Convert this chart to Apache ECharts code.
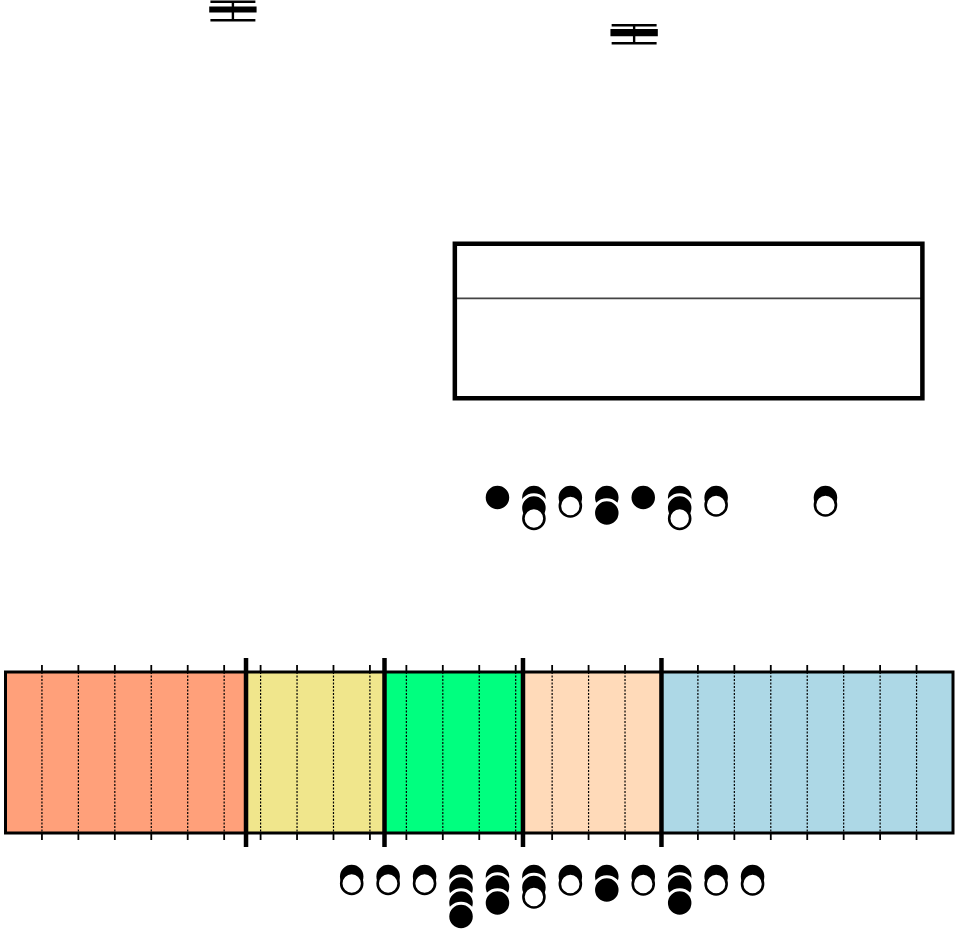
<!DOCTYPE html>
<html>
<head>
<meta charset="utf-8">
<script src="https://cdn.jsdelivr.net/npm/echarts@6/dist/echarts.min.js"></script>
<style>
html, body { margin: 0; padding: 0; background: #ffffff; }
#chart { width: 960px; height: 933px; }
</style>
</head>
<body>
<div id="chart"></div>
<script>
// ---------------- data ----------------
const periodStarts = [0, 6.6, 10.4, 14.2, 18.0];
const periodEnds   = [6.6, 10.4, 14.2, 18.0, 26];
const periodColors = ['#FFA07A', '#F0E68C', '#00FF7F', '#FFDAB9', '#ADD8E6'];
const boundaryValues = [6.6, 10.4, 14.2, 18.0];
const tickValues = [1, 2, 3, 4, 5, 6, 7, 8, 9, 10, 11, 12, 13, 14, 15, 16, 17, 18, 19, 20, 21, 22, 23, 24, 25];

// small box plots: x position and [upper whisker, Q3, median, Q1, lower whisker]
const boxX = [6.24, 17.25];
const boxStats = [
  [0.18, 0.77, 0.95, 1.13, 2.03],
  [2.53, 3.03, 3.265, 3.5, 4.33]
];

// large box: x extent and [top, median, bottom]
const bigBoxX = [12.33, 25.16];
const bigBoxY = [24.37, 29.83, 39.83];

// dot rows: [x, y]
const topFilled = [
  [13.5, 49.75], [14.5, 49.75], [14.5, 50.8], [15.5, 49.75], [16.5, 49.75], [16.5, 51.3],
  [17.5, 49.75], [18.5, 49.75], [18.5, 50.8], [19.5, 49.75], [22.5, 49.75]
];
const topOpen = [
  [14.5, 51.85], [15.5, 50.6], [18.5, 51.85], [19.5, 50.5], [22.5, 50.5]
];
const bottomFilled = [
  [9.5, 87.65], [10.5, 87.65], [11.5, 87.65],
  [12.5, 87.65], [12.5, 88.9], [12.5, 90.3], [12.5, 91.65],
  [13.5, 87.65], [13.5, 88.7], [13.5, 90.3],
  [14.5, 87.65], [14.5, 88.75], [15.5, 87.65],
  [16.5, 87.65], [16.5, 89.0], [17.5, 87.65],
  [18.5, 87.65], [18.5, 88.7], [18.5, 90.3],
  [19.5, 87.65], [20.5, 87.65]
];
const bottomOpen = [
  [9.5, 88.35], [10.5, 88.35], [11.5, 88.35], [14.5, 89.7],
  [15.5, 88.4], [17.5, 88.4], [19.5, 88.4], [20.5, 88.4]
];

// ---------------- layout constants ----------------
const X_MIN = 0, X_MAX = 26, Y_MIN = 0, Y_MAX = 93.3;
const BAND_TOP = 67.2, BAND_BOTTOM = 83.3, TICK_LEN = 0.7;
const BOUNDARY_TOP = 65.8, BOUNDARY_BOTTOM = 84.7;
const BOX_HALF = 0.617;

const chart = echarts.init(document.getElementById('chart'), null, { renderer: 'canvas' });

const periodData = periodStarts.map((s, i) => [s, periodEnds[i], i]);
const tickData = tickValues.map(v => [v, BAND_TOP]);
const boundaryData = boundaryValues.map(v => [v, BAND_TOP]);
const boxData = boxX.map((x, i) => [x].concat(boxStats[i]));
const bigBoxData = [[bigBoxX[0], bigBoxX[1]].concat(bigBoxY)];

function lineShape(p0, p1) {
  return { x1: p0[0], y1: p0[1], x2: p1[0], y2: p1[1] };
}

const option = {
  animation: false,
  backgroundColor: '#ffffff',
  grid: { left: 5.5, right: 7, top: 0, bottom: 0, containLabel: false },
  xAxis: { type: 'value', min: X_MIN, max: X_MAX, show: false },
  yAxis: { type: 'value', min: Y_MIN, max: Y_MAX, inverse: true, show: false },
  series: [
    {
      type: 'custom', silent: true, data: periodData,
      renderItem: function (params, api) {
        const p0 = api.coord([api.value(0), BAND_TOP]);
        const p1 = api.coord([api.value(1), BAND_BOTTOM]);
        return {
          type: 'rect',
          shape: { x: p0[0], y: p0[1], width: p1[0] - p0[0], height: p1[1] - p0[1] },
          style: { fill: periodColors[api.value(2)] }
        };
      }
    },
    {
      type: 'custom', silent: true, data: tickData,
      renderItem: function (params, api) {
        const v = api.value(0);
        return {
          type: 'group',
          children: [
            { type: 'line', shape: lineShape(api.coord([v, BAND_TOP - TICK_LEN]), api.coord([v, BAND_TOP])),
              style: { stroke: '#000', lineWidth: 1.8 } },
            { type: 'line', shape: lineShape(api.coord([v, BAND_TOP]), api.coord([v, BAND_BOTTOM])),
              style: { stroke: '#000', lineWidth: 1.2, lineDash: [2, 1.5] } },
            { type: 'line', shape: lineShape(api.coord([v, BAND_BOTTOM]), api.coord([v, BAND_BOTTOM + TICK_LEN])),
              style: { stroke: '#000', lineWidth: 1.8 } }
          ]
        };
      }
    },
    {
      type: 'custom', silent: true, data: [[X_MIN, BAND_TOP, X_MAX]],
      renderItem: function (params, api) {
        const p0 = api.coord([api.value(0), BAND_TOP]);
        const p1 = api.coord([api.value(2), BAND_BOTTOM]);
        return {
          type: 'rect',
          shape: { x: p0[0], y: p0[1], width: p1[0] - p0[0], height: p1[1] - p0[1] },
          style: { fill: 'none', stroke: '#000', lineWidth: 3 }
        };
      }
    },
    {
      type: 'custom', silent: true, data: boundaryData,
      renderItem: function (params, api) {
        const v = api.value(0);
        return {
          type: 'line',
          shape: lineShape(api.coord([v, BOUNDARY_TOP]), api.coord([v, BOUNDARY_BOTTOM])),
          style: { stroke: '#000', lineWidth: 4.5 }
        };
      }
    },
    {
      type: 'custom', silent: true, data: boxData,
      renderItem: function (params, api) {
        const x = api.value(0);
        const hi = api.value(1), q3 = api.value(2), med = api.value(3), q1 = api.value(4), lo = api.value(5);
        const st = { stroke: '#000', lineWidth: 2.4 };
        const L = x - BOX_HALF, R = x + BOX_HALF;
        const a = api.coord([L, q3]), b = api.coord([R, q1]);
        return {
          type: 'group',
          children: [
            { type: 'line', shape: lineShape(api.coord([x, hi]), api.coord([x, q3])), style: st },
            { type: 'line', shape: lineShape(api.coord([x, q1]), api.coord([x, lo])), style: st },
            { type: 'line', shape: lineShape(api.coord([L, hi]), api.coord([R, hi])), style: st },
            { type: 'line', shape: lineShape(api.coord([L, lo]), api.coord([R, lo])), style: st },
            { type: 'rect', shape: { x: a[0], y: a[1], width: b[0] - a[0], height: b[1] - a[1] },
              style: { fill: '#000', stroke: '#000', lineWidth: 2.4 } },
            { type: 'line', shape: lineShape(api.coord([L, med]), api.coord([R, med])), style: st }
          ]
        };
      }
    },
    {
      type: 'custom', silent: true, data: bigBoxData,
      renderItem: function (params, api) {
        const x0 = api.value(0), x1 = api.value(1);
        const top = api.value(2), med = api.value(3), bot = api.value(4);
        const a = api.coord([x0, top]), b = api.coord([x1, bot]);
        return {
          type: 'group',
          children: [
            { type: 'line', shape: lineShape(api.coord([x0, med]), api.coord([x1, med])),
              style: { stroke: '#444', lineWidth: 1.7 } },
            { type: 'rect', shape: { x: a[0], y: a[1], width: b[0] - a[0], height: b[1] - a[1] },
              style: { fill: 'none', stroke: '#000', lineWidth: 4.5 } }
          ]
        };
      }
    },
    {
      type: 'scatter', silent: true, data: topFilled.concat(bottomFilled),
      symbol: 'circle', symbolSize: 26.5,
      itemStyle: { color: '#000', borderColor: '#fff', borderWidth: 3, opacity: 1 },
      emphasis: { disabled: true }
    },
    {
      type: 'scatter', silent: true, data: topOpen.concat(bottomOpen),
      symbol: 'circle', symbolSize: 21,
      itemStyle: { color: '#fff', borderColor: '#000', borderWidth: 2.6, opacity: 1 },
      emphasis: { disabled: true }
    }
  ]
};

chart.setOption(option);
</script>
</body>
</html>
